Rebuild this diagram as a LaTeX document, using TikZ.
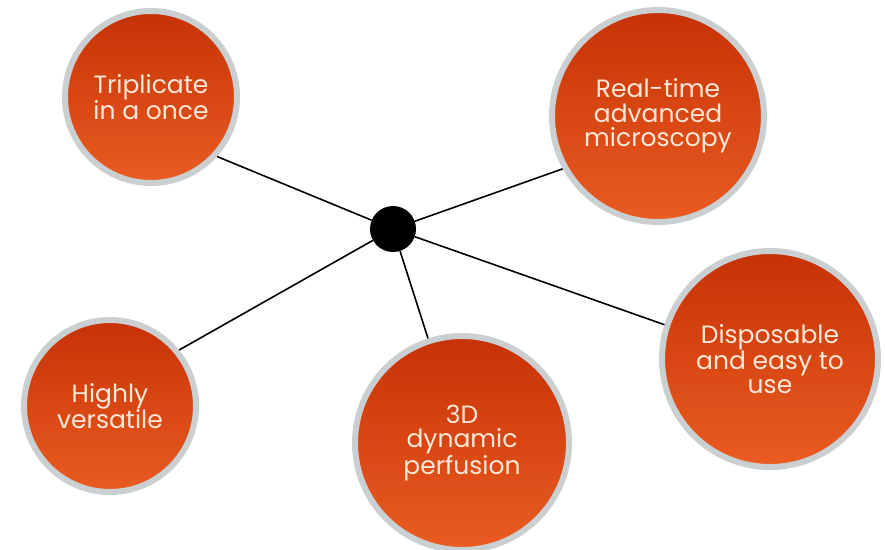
\documentclass[tikz,border=0pt]{standalone}
\usepackage{fontspec}
\setmainfont{Poppins}
\definecolor{ringgray}{RGB}{202,207,210}
\definecolor{disktop}{RGB}{198,50,5}
\definecolor{diskbot}{RGB}{234,92,34}
\definecolor{disktext}{RGB}{252,232,216}
\begin{document}
\begin{tikzpicture}[x=1pt,y=-1pt,
  disk/.style={circle, draw=ringgray, line width=6pt, top color=disktop, bottom color=diskbot,
    inner sep=0pt, minimum size=#1, text=disktext, align=center,
    font=\fontsize{25}{24.5}\selectfont},
  hubdot/.style={circle, fill=black, inner sep=0pt, minimum size=46pt},
  spoke/.style={draw=black, line width=1.6pt}]
  \useasboundingbox (0,0) rectangle (885,549);
  \node[hubdot] (hub) at (393,229) {};
  \node[disk=172pt] (trip) at (151,97) {Triplicate\\in a once};
  \node[disk=212pt] (micro) at (658,116) {Real-time\\advanced\\microscopy};
  \node[disk=216pt] (disp) at (770,359) {Disposable\\and easy to\\use};
  \node[disk=214pt] (perf) at (462,443) {3D\\dynamic\\perfusion};
  \node[disk=172pt] (vers) at (110,406) {Highly\\versatile};
  \draw[spoke] (hub) -- (trip.-42);
  \draw[spoke] (hub) -- (micro.209);
  \draw[spoke] (hub) -- (disp.162);
  \draw[spoke] (hub) -- (perf.108);
  \draw[spoke] (hub) -- (vers.39);
\end{tikzpicture}
\end{document}
